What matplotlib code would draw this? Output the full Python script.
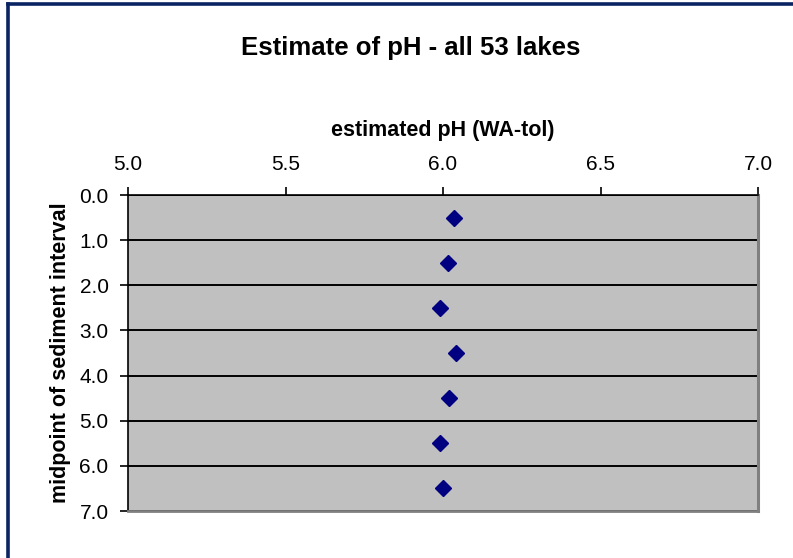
import matplotlib
matplotlib.use("Agg")
import matplotlib.pyplot as plt
from matplotlib.lines import Line2D

plt.rcParams['font.family'] = ['Liberation Sans', 'DejaVu Sans']

# Estimated pH per sediment interval midpoint
depth_midpoints = [0.5, 1.5, 2.5, 3.5, 4.5, 5.5, 6.5]
estimated_ph = [6.035, 6.015, 5.99, 6.04, 6.02, 5.99, 6.00]

x_ticks = [5.0, 5.5, 6.0, 6.5, 7.0]
y_ticks = [0.0, 1.0, 2.0, 3.0, 4.0, 5.0, 6.0, 7.0]

fig = plt.figure(figsize=(7.93, 5.58), dpi=100)
ax = fig.add_axes([0.1614, 0.0842, 0.7946, 0.5663])
ax.set_facecolor('#C0C0C0')

ax.plot(estimated_ph, depth_midpoints, linestyle='none', marker='D',
        markersize=7.8, color='#000080', zorder=3)

ax.set_xlim(5.0, 7.0)
ax.set_ylim(7.0, 0.0)
ax.set_xticks(x_ticks)
ax.set_xticklabels([f"{v:.1f}" for v in x_ticks])
ax.set_yticks(y_ticks)
ax.set_yticklabels([f"{v:.1f}" for v in y_ticks])

ax.xaxis.tick_top()
ax.xaxis.set_label_position('top')
ax.tick_params(axis='x', direction='out', length=6, width=1.2, pad=9,
               labelsize=15, colors='black')
ax.tick_params(axis='y', direction='out', length=6, width=1.2, pad=8,
               labelsize=15, colors='black')

ax.yaxis.grid(True, color='black', linewidth=1.4)
ax.set_axisbelow(True)

ax.spines['top'].set_color('black')
ax.spines['left'].set_color('black')
ax.spines['top'].set_linewidth(1.2)
ax.spines['left'].set_linewidth(1.2)
ax.spines['right'].set_color('#808080')
ax.spines['bottom'].set_color('#808080')
ax.spines['right'].set_linewidth(2.2)
ax.spines['bottom'].set_linewidth(2.0)

ax.set_xlabel('estimated pH (WA-tol)', fontsize=15.5, fontweight='bold',
              labelpad=14)
ax.set_ylabel('midpoint of sediment interval', fontsize=15.5,
              fontweight='bold', labelpad=6)

fig.text(0.518, 0.914, 'Estimate of pH - all 53 lakes', ha='center',
         va='center', fontsize=18.5, fontweight='bold')

# Chart frame
frame_color = '#0A2463'
fig.add_artist(Line2D([0.0095, 1.0], [0.9935, 0.9935], color=frame_color,
                      linewidth=2.6, transform=fig.transFigure))
fig.add_artist(Line2D([0.0095, 0.0095], [0.0, 0.9935], color=frame_color,
                      linewidth=2.6, transform=fig.transFigure))

fig.savefig('out.png', dpi=100)
